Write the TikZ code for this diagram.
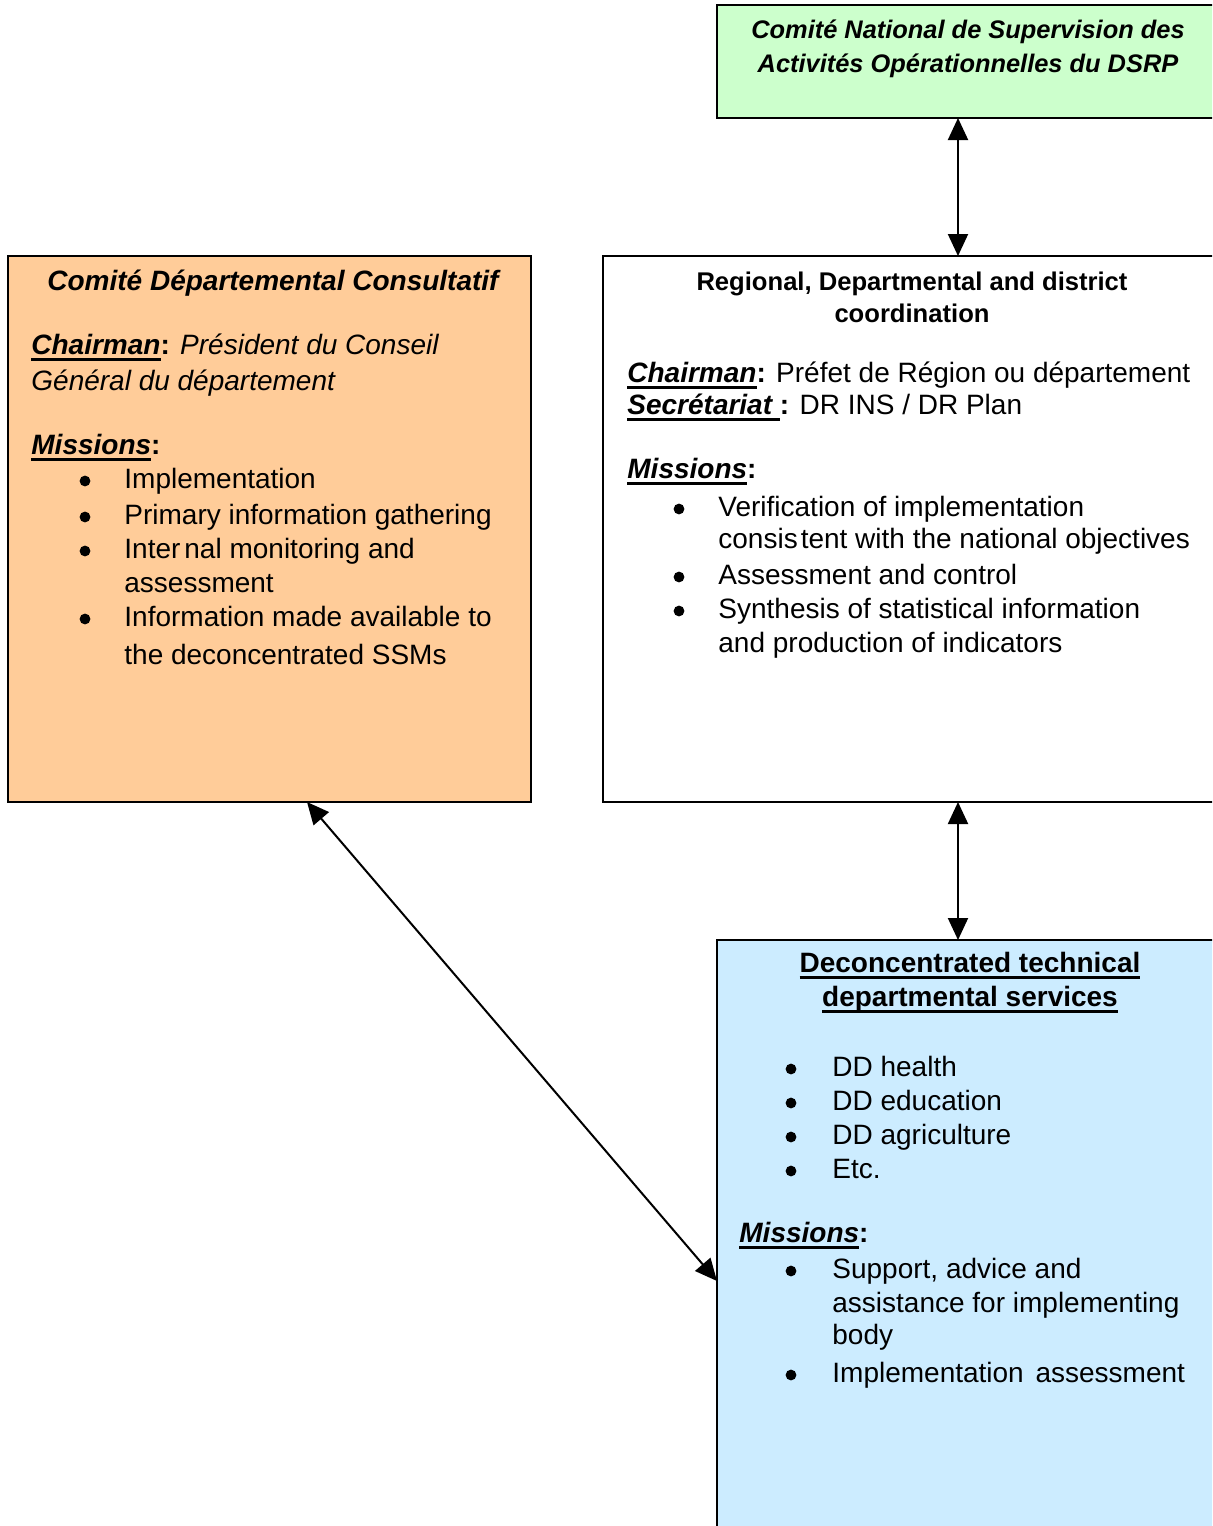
\documentclass[tikz,border=0pt]{standalone}
\usepackage{fontspec}
\setmainfont{Liberation Sans}
\usetikzlibrary{arrows.meta}
\definecolor{natgreen}{HTML}{CCFFCC}
\definecolor{deporange}{HTML}{FFCC99}
\definecolor{svcblue}{HTML}{CCECFF}
% thick underline used for the field labels
\newcommand{\thul}[1]{\setbox0\hbox{#1}\rlap{\rule[-3.4pt]{\wd0}{1.5pt}}\box0}
\begin{document}
\begin{tikzpicture}[x=0.5pt,y=-0.5pt,
  box/.style={draw, line width=1pt, inner sep=0, outer sep=0, anchor=north west},
  txt/.style={anchor=base west, inner sep=0, font=\fontsize{14}{17}\selectfont},
  ctr/.style={anchor=base, inner sep=0, font=\fontsize{14}{17}\selectfont},
  hd/.style={anchor=base, inner sep=0, font=\fontsize{12.8}{15}\selectfont\bfseries},
  dot/.style={circle, fill=black, inner sep=0, minimum size=5.4pt},
  link/.style={line width=1pt, {Triangle[length=11pt,width=10pt]}-{Triangle[length=11pt,width=10pt]}}]
\useasboundingbox (0,0) rectangle (1212,1526);
\clip (0,0) rectangle (1212,1526);
\fill[white] (0,0) rectangle (1212,1526);

% boxes
\node[box, fill=natgreen, minimum width=256.5pt, minimum height=56.5pt] (nat) at (717,5) {};
\node[box, fill=deporange, minimum width=261.5pt, minimum height=273pt] (dep) at (8,256) {};
\node[box, fill=white, minimum width=313.5pt, minimum height=273pt] (reg) at (603,256) {};
\node[box, fill=svcblue, minimum width=256.5pt, minimum height=300pt] (svc) at (717,940) {};

% national committee
\node[hd, font=\fontsize{12.7}{15}\selectfont\bfseries\itshape] (n1) at (968,38) {Comité National de Supervision des};
\node[hd, font=\fontsize{12.7}{15}\selectfont\bfseries\itshape] (n2) at (968,72) {Activités Opérationnelles du DSRP};

% departmental consultative committee
\node[ctr, font=\fontsize{14}{17}\selectfont\bfseries\itshape] (d0) at (273,290) {Comité Départemental Consultatif};
\node[txt] (d1) at (31,354) {\thul{\bfseries\itshape Chairman}\textbf{:} \itshape Président du Conseil};
\node[txt] (d2) at (31,390) {\itshape Général du département};
\node[txt] (d3) at (31,454) {\thul{\bfseries\itshape Missions}\textbf{:}};
\node[dot] (db1) at (85,481) {};
\node[txt] (dt1) at (124,488) {Implementation};
\node[dot] (db2) at (85,517) {};
\node[txt] (dt2) at (124,524) {Primary information gathering};
\node[dot] (db3) at (85,551) {};
\node[txt] (dt3) at (124,558) {Inter\kern2pt nal monitoring and};
\node[txt] (dt3b) at (124,592) {assessment};
\node[dot] (db4) at (85,619) {};
\node[txt] (dt4) at (124,626) {Information made available to};
\node[txt] (dt4b) at (124,664) {the deconcentrated SSMs};

% regional coordination
\node[hd] (r0) at (912,290) {Regional, Departmental and district};
\node[hd] (r0b) at (912,322) {coordination};
\node[txt] (r1) at (627,382) {\thul{\bfseries\itshape Chairman}\textbf{:} Préfet de Région ou département};
\node[txt] (r2) at (627,414) {\thul{\bfseries\itshape Secrétariat }\textbf{:} DR INS / DR Plan};
\node[txt] (r3) at (627,478) {\thul{\bfseries\itshape Missions}\textbf{:}};
\node[dot] (rb1) at (679,509) {};
\node[txt] (rt1) at (718,516) {Verification of implementation};
\node[txt] (rt1b) at (718,548) {consis\kern1.5pt tent with the national objectives};
\node[dot] (rb2) at (679,577) {};
\node[txt] (rt2) at (718,584) {Assessment and control};
\node[dot] (rb3) at (679,611) {};
\node[txt] (rt3) at (718,618) {Synthesis of statistical information};
\node[txt] (rt3b) at (718,652) {and production of indicators};

% deconcentrated technical services
\node[ctr, font=\fontsize{14}{17}\selectfont\bfseries] (s0) at (970,972) {\thul{Deconcentrated technical}};
\node[ctr, font=\fontsize{14}{17}\selectfont\bfseries] (s0b) at (970,1006) {\thul{departmental services}};
\node[dot] (sb1) at (791,1069) {};
\node[txt] (st1) at (832,1076) {DD health};
\node[dot] (sb2) at (791,1103) {};
\node[txt] (st2) at (832,1110) {DD education};
\node[dot] (sb3) at (791,1137) {};
\node[txt] (st3) at (832,1144) {DD agriculture};
\node[dot] (sb4) at (791,1171) {};
\node[txt] (st4) at (832,1178) {Etc.};
\node[txt] (s3) at (739,1242) {\thul{\bfseries\itshape Missions}\textbf{:}};
\node[dot] (sb5) at (791,1271) {};
\node[txt] (st5) at (832,1278) {Support, advice and};
\node[txt] (st5b) at (832,1312) {assistance for implementing};
\node[txt] (st5c) at (832,1344) {body};
\node[dot] (sb6) at (791,1375) {};
\node[txt] (st6) at (832,1382) {Implementation\kern2pt\ assessment};

% connectors
\draw[link] ([xshift=120.5pt]nat.south west) -- ([xshift=177.5pt]reg.north west);
\draw[link] ([xshift=177.5pt]reg.south west) -- ([xshift=120.5pt]svc.north west);
\draw[link] ([xshift=149.5pt]dep.south west) -- ([yshift=-170.5pt]svc.north west);
\end{tikzpicture}
\end{document}
